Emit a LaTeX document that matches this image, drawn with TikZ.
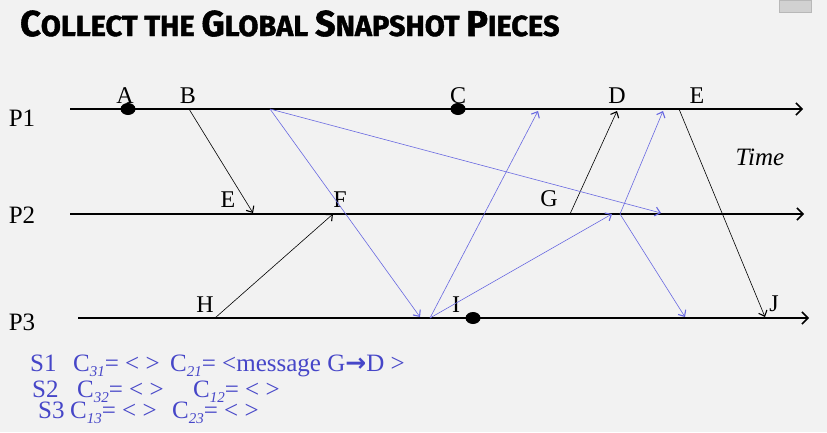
\documentclass[tikz,border=0pt]{standalone}
\usepackage{fontspec}
\setmainfont{Liberation Serif}
\newfontfamily\titlefont[BoldFeatures={FakeBold=1.5}]{Fira Sans}
\newfontfamily\symfont{DejaVu Sans}
\usetikzlibrary{arrows.meta,shapes.geometric}
\definecolor{pagegray}{RGB}{242,242,242}
\definecolor{snapblue}{RGB}{70,70,200}
\definecolor{msgblue}{RGB}{105,105,225}
\newcommand\titlecap[1]{{\fontsize{36}{36}\selectfont #1}}
\newcommand\chan[1]{C\raisebox{-0.2em}{\fontsize{15}{15}\selectfont\itshape #1}}

\begin{document}
\begin{tikzpicture}[x=1pt,y=-1pt,proc/.style={line width=2.2pt, -{Straight Barb[length=6pt,width=12pt,line width=1.5pt]}},msg/.style={line width=0.6pt, -{Straight Barb[length=5pt,width=9pt,line width=1.1pt]}},bluemsg/.style={msg, msgblue},event/.style={ellipse, fill=black, inner sep=0pt, minimum width=15pt, minimum height=12pt},lbl/.style={inner sep=0pt, font=\fontsize{24}{24}\selectfont},snaptext/.style={inner sep=0pt, anchor=base west, text=snapblue, font=\fontsize{25}{25}\selectfont}]
\useasboundingbox (0,0) rectangle (827,432);
\fill[pagegray] (0,0) rectangle (827,432);
\filldraw[fill=black!18, draw=black!28] (779,0) rectangle (811,12);
\node[anchor=base west, inner sep=0pt, font=\titlefont\bfseries\fontsize{29}{29}\selectfont] (title) at (20,36) {\titlecap{C}OLLECT THE \titlecap{G}LOBAL \titlecap{S}NAPSHOT \titlecap{P}IECES};
% process time lines
\node[lbl, font=\fontsize{25}{25}\selectfont] (P1) at (22,118) {P1}; \node[lbl, font=\fontsize{25}{25}\selectfont] (P2) at (22,215) {P2}; \node[lbl, font=\fontsize{25}{25}\selectfont] (P3) at (22,322) {P3};
\coordinate (p1s) at (70,109); \coordinate (p1e) at (803,109); \draw[proc] (p1s) -- (p1e);
\coordinate (p2s) at (70,214); \coordinate (p2e) at (804,214); \draw[proc] (p2s) -- (p2e);
\coordinate (p3s) at (78,318); \coordinate (p3e) at (809,318); \draw[proc] (p3s) -- (p3e);
\node[lbl, font=\fontsize{25}{25}\selectfont\itshape] (time) at (760,157) {Time};
% events
\node[event] (a) at (128,109) {}; \node[lbl] (A) at (125,96) {A};
\coordinate (b) at (189,109); \node[lbl] (B) at (188,96) {B};
\node[event] (c) at (458,109) {}; \node[lbl] (C) at (458,96) {C};
\coordinate (d) at (617,111); \node[lbl] (D) at (617,96) {D};
\coordinate (e) at (679,109); \node[lbl] (E) at (697,96) {E};
\coordinate (e2) at (253,213); \node[lbl] (E2) at (228,200) {E};
\coordinate (f) at (333,214); \node[lbl] (F) at (340,200) {F};
\coordinate (g) at (570,214); \node[lbl] (G) at (549,199) {G};
\coordinate (h) at (215,318); \node[lbl] (H) at (205,305) {H};
\node[event] (i) at (473,318) {}; \node[lbl] (I) at (456,305) {I};
\coordinate (j) at (765,317); \node[lbl] (J) at (774,304) {J};
% marker messages
\coordinate (m1) at (270,109); \coordinate (m2) at (430,318); \coordinate (m3) at (620,214);
\coordinate (r1) at (420,317); \coordinate (r2) at (661,213); \coordinate (r3) at (538,111); \coordinate (r4) at (612,214); \coordinate (r5) at (663,111); \coordinate (r6) at (685,317);
% black messages
\draw[msg] (b) -- (e2); \draw[msg] (h) -- (f); \draw[msg] (g) -- (d); \draw[msg] (e) -- (j);
\draw[bluemsg] (m1) -- (r1); \draw[bluemsg] (m1) -- (r2);
\draw[bluemsg] (m2) -- (r3); \draw[bluemsg] (m2) -- (r4);
\draw[bluemsg] (m3) -- (r5); \draw[bluemsg] (m3) -- (r6);
% recorded states
\node[snaptext] (s1) at (30,371) {S1}; \node[snaptext] (c31) at (73,371) {\chan{31}= < >}; \node[snaptext] (c21) at (170,371) {\chan{21}= <message G{\symfont\bfseries →}D >};
\node[snaptext] (s2) at (32,397) {S2}; \node[snaptext] (c32) at (77,397) {\chan{32}= < >}; \node[snaptext] (c12) at (193,397) {\chan{12}= < >};
\node[snaptext] (s3) at (38,418) {S3}; \node[snaptext] (c13) at (70,418) {\chan{13}= < >}; \node[snaptext] (c23) at (172,418) {\chan{23}= < >};
\end{tikzpicture}
\end{document}
